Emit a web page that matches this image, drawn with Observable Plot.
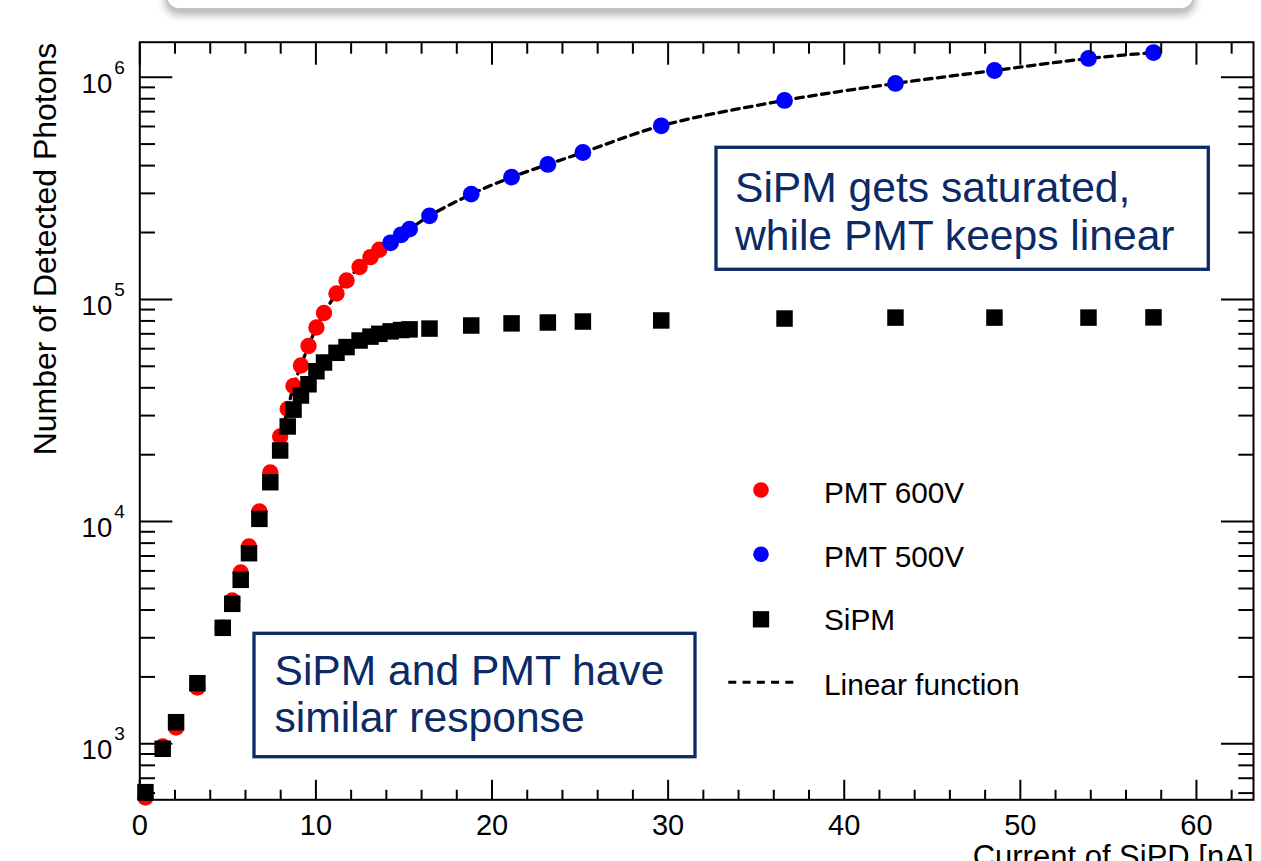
<!DOCTYPE html>
<html><head><meta charset="utf-8">
<script src="https://cdn.jsdelivr.net/npm/d3@7"></script>
<script src="https://cdn.jsdelivr.net/npm/@observablehq/plot@0.6"></script>
<style>
html,body{margin:0;padding:0;width:1261px;height:861px;overflow:hidden;background:#fff;}
#wrap{position:relative;width:1261px;height:861px;overflow:hidden;}
#chart{position:absolute;left:0;top:0;}
#slidebox{position:absolute;left:165px;top:-62px;width:1026px;height:68px;border:2px solid #b9c7cc;border-radius:14px;box-shadow:0 5px 8px rgba(0,0,0,0.3);background:#fff;}
</style></head><body>
<div id="wrap"><div id="chart"></div><div id="slidebox"></div></div>
<script>
// ---- data ----
const pmt600Current = [0.32, 1.30, 2.06, 3.27, 4.71, 5.25, 5.73, 6.20, 6.79, 7.41, 7.97, 8.40, 8.73, 9.15, 9.58, 10.03, 10.46, 11.17, 11.74, 12.48, 13.10, 13.60];
const pmt600Photons = [573, 972, 1184, 1792, 3330, 4415, 5902, 7726, 11100, 16630, 24150, 32130, 40760, 50420, 61700, 74700, 86880, 106300, 121600, 139900, 154900, 167400];

const pmt500Current = [14.24, 14.84, 15.32, 16.45, 18.82, 21.11, 23.17, 25.16, 29.61, 36.61, 42.91, 48.53, 53.87, 57.56];
const pmt500Photons = [179800, 195300, 207000, 237700, 297500, 354800, 404800, 458200, 604300, 785900, 937000, 1072000, 1214000, 1291000];

const sipmCurrent = [0.32, 1.30, 2.06, 3.27, 4.71, 5.25, 5.73, 6.20, 6.79, 7.41, 7.97, 8.40, 8.73, 9.15, 9.58, 10.03, 10.46, 11.17, 11.74, 12.48, 13.10, 13.60, 14.24, 14.84, 15.32, 16.45, 18.82, 21.11, 23.17, 25.16, 29.61, 36.61, 42.91, 48.53, 53.87, 57.56];
const sipmPhotons = [606, 950, 1251, 1874, 3327, 4266, 5470, 7207, 10290, 15040, 20890, 26800, 31900, 36940, 41500, 47500, 52000, 57500, 61000, 65300, 68000, 70000, 71800, 72800, 73300, 73900, 76300, 78000, 78700, 79500, 80400, 82000, 82800, 82800, 82800, 83000];

const linearCurrent = [7.97, 8.40, 8.73, 9.15, 9.58, 10.03, 10.46, 11.17, 11.74, 12.48, 13.10, 13.60, 14.24, 14.84, 15.32, 16.45, 18.82, 21.11, 23.17, 25.16, 29.61, 36.61, 42.91, 48.53, 53.87, 57.56];
const linearPhotons = [24150, 32130, 40760, 50420, 61700, 74700, 86880, 106300, 121600, 139900, 154900, 167400, 179800, 195300, 207000, 237700, 297500, 354800, 404800, 458200, 604300, 785900, 937000, 1072000, 1214000, 1291000];

const xMajor = [0, 10, 20, 30, 40, 50, 60];
const xTickLabels = ["0", "10", "20", "30", "40", "50", "60"];
const xMinor = [2, 4, 6, 8, 12, 14, 16, 18, 22, 24, 26, 28, 32, 34, 36, 38, 42, 44, 46, 48, 52, 54, 56, 58, 62];
const yMajor = [1e3, 1e4, 1e5, 1e6];
const yTickExponents = ["3", "4", "5", "6"];
const yMinor = [600, 700, 800, 900, 2e3, 3e3, 4e3, 5e3, 6e3, 7e3, 8e3, 9e3, 2e4, 3e4, 4e4, 5e4, 6e4, 7e4, 8e4, 9e4, 2e5, 3e5, 4e5, 5e5, 6e5, 7e5, 8e5, 9e5];

const seriesNames = ["PMT 600V", "PMT 500V", "SiPM", "Linear function"];
const xTitle = "Current of SiPD [nA]";
const yTitle = "Number of Detected Photons";
const note1 = ["SiPM gets saturated,", "while PMT keeps linear"];
const note2 = ["SiPM and PMT have", "similar response"];

// ---- tables ----
const toRows = (xs, ys) => xs.map((x, i) => ({x, y: ys[i]}));
const pmt600 = toRows(pmt600Current, pmt600Photons);
const pmt500 = toRows(pmt500Current, pmt500Photons);
const sipm = toRows(sipmCurrent, sipmPhotons);
const linear = toRows(linearCurrent, linearPhotons);

const FONT = "'Liberation Sans', Arial, Helvetica, sans-serif";
const H = 880;
const blank = () => "";

const chart = Plot.plot({
  width: 1261, height: H,
  marginLeft: 139.3, marginRight: 8, marginTop: 41.7, marginBottom: H - 799.3,
  style: {fontFamily: FONT, background: "transparent", overflow: "visible", color: "black"},
  x: {domain: [0, 63.24]},
  y: {type: "log", domain: [559.8, 1.437e6]},
  marks: [
    Plot.line(linear, {x: "x", y: "y", stroke: "black", strokeWidth: 3.3, strokeDasharray: "7.5,5.5", curve: "catmull-rom"}),
    Plot.dot(pmt600, {x: "x", y: "y", r: 8.2, fill: "#ff0000"}),
    Plot.dot(pmt500, {x: "x", y: "y", r: 8.4, fill: "#0000ff"}),
    Plot.dot(sipm, {x: "x", y: "y", symbol: "square", r: 9.3, fill: "black"}),
    // ticks (inward, ROOT style)
    Plot.axisX(xMajor, {anchor: "bottom", tickSize: -19.5, tickFormat: blank, label: null, strokeWidth: 2}),
    Plot.axisX(xMinor, {anchor: "bottom", tickSize: -9.5, tickFormat: blank, label: null, strokeWidth: 2}),
    Plot.axisX(xMajor, {anchor: "top", tickSize: -22, tickFormat: blank, label: null, strokeWidth: 2}),
    Plot.axisX(xMinor, {anchor: "top", tickSize: -11, tickFormat: blank, label: null, strokeWidth: 2}),
    Plot.axisY(yMajor, {anchor: "left", tickSize: -33, tickFormat: blank, label: null, strokeWidth: 2}),
    Plot.axisY(yMinor, {anchor: "left", tickSize: -15.7, tickFormat: blank, label: null, strokeWidth: 2}),
    Plot.axisY(yMajor, {anchor: "right", tickSize: -33, tickFormat: blank, label: null, strokeWidth: 2}),
    Plot.axisY(yMinor, {anchor: "right", tickSize: -15.7, tickFormat: blank, label: null, strokeWidth: 2}),
    Plot.frame({stroke: "black", strokeWidth: 2}),
    // tick labels
    Plot.text(xMajor, {x: d => d, frameAnchor: "bottom", dy: 34.7, lineAnchor: "bottom", text: (d, i) => xTickLabels[i], fontSize: 29, fill: "black"}),
    Plot.text(yMajor, {y: d => d, frameAnchor: "left", dx: -27.6, dy: 15.5, lineAnchor: "bottom", textAnchor: "end", text: () => "10", fontSize: 27.5, fill: "black"}),
    Plot.text(yMajor, {y: d => d, frameAnchor: "left", dx: -25.5, dy: -3.5, lineAnchor: "bottom", textAnchor: "start", text: (d, i) => yTickExponents[i], fontSize: 19, fill: "black"}),
    // axis titles
    Plot.text([xTitle], {frameAnchor: "bottom-right", text: d => d, textAnchor: "end", lineAnchor: "bottom", dy: 66.7, fontSize: 31, fill: "black"}),
    Plot.text([yTitle], {frameAnchor: "top-left", text: d => d, rotate: -90, textAnchor: "end", lineAnchor: "bottom", dx: -84.3, dy: 0.5, fontSize: 32, fill: "black"})
  ]
});
document.getElementById("chart").appendChild(chart);

// ---- legend & annotations (overlay in pixel space) ----
const svg = d3.select(chart);
const lg = svg.append("g").attr("font-family", FONT).attr("font-size", 29.8).attr("fill", "black").attr("text-anchor", "start");
lg.append("circle").attr("cx", 761).attr("cy", 490).attr("r", 7.8).attr("fill", "#ff0000");
lg.append("circle").attr("cx", 761).attr("cy", 554.3).attr("r", 7.8).attr("fill", "#0000ff");
lg.append("rect").attr("x", 761 - 8.15).attr("y", 619.3 - 8.15).attr("width", 16.3).attr("height", 16.3).attr("fill", "black");
lg.append("line").attr("x1", 728.3).attr("x2", 793.3).attr("y1", 682.3).attr("y2", 682.3)
  .attr("stroke", "black").attr("stroke-width", 3).attr("stroke-dasharray", "8,6.25");
[502.7, 566.7, 630, 695].forEach((b, i) => lg.append("text").attr("x", 824).attr("y", b).attr("text-anchor", "start").text(seriesNames[i]));

const NAVY = "#0b2a66";
function note(x, y, w, h, lines, tx, b0, lh) {
  const g = svg.append("g").attr("font-family", FONT).attr("font-size", 42.6).attr("text-anchor", "start");
  g.append("rect").attr("x", x).attr("y", y).attr("width", w).attr("height", h)
    .attr("fill", "white").attr("stroke", NAVY).attr("stroke-width", 3.3);
  lines.forEach((t, i) => g.append("text").attr("x", tx).attr("y", b0 + i * lh).attr("fill", NAVY).attr("text-anchor", "start").text(t));
}
note(716, 147.3, 492.3, 122, note1, 735, 201.7, 48.3);
note(254, 633.3, 441, 123.4, note2, 274.5, 685, 46.7);
</script>
</body></html>
